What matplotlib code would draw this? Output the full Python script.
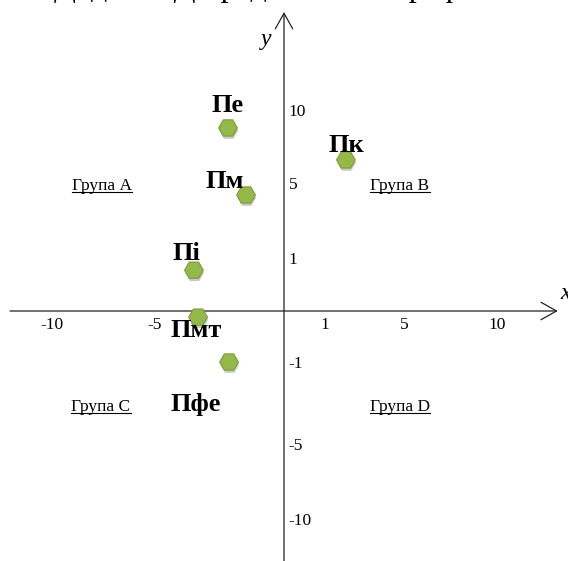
import matplotlib
matplotlib.use("Agg")
import matplotlib.pyplot as plt
import matplotlib.patheffects as pe
from matplotlib.lines import Line2D
import numpy as np

# points of the chart
names = ["Пе", "Пк", "Пм", "Пі", "Пмт", "Пфе"]
x_vals = [-2.17, 2.06, -1.47, -3.49, -3.33, -2.13]
y_vals = [8.77, 6.58, 4.36, 0.77, -0.12, -1.0]

x_ticks = [-10, -5, 1, 5, 10]
y_ticks = [-10, -5, -1, 1, 5, 10]
groups = ["Група А", "Група В", "Група С", "Група D"]

# the axes of the original are not linear, so map values to pixels piecewise
x_knots = [-12.5, -10, -5, 0, 1, 5, 10, 13.8]
x_pix = [0, 52, 155, 284, 325, 404, 497, 568]
y_knots = [-12.8, -10, -5, -1, 0, 1, 5, 10, 17.5]
y_pix = [0, 42, 117, 199, 250, 303, 378, 451, 561]


def piecewise(knots, pix):
    knots = np.asarray(knots, float)
    pix = np.asarray(pix, float)

    def fwd(v):
        return np.interp(v, knots, pix)

    def inv(p):
        return np.interp(p, pix, knots)

    return fwd, inv


serif = "Liberation Serif"

fig = plt.figure(figsize=(5.68, 5.61), dpi=100)
ax = fig.add_axes([0, 0, 1, 1])
ax.set_xscale("function", functions=piecewise(x_knots, x_pix))
ax.set_yscale("function", functions=piecewise(y_knots, y_pix))
ax.set_xlim(x_knots[0], x_knots[-1])
ax.set_ylim(y_knots[0], y_knots[-1])

for s in ax.spines.values():
    s.set_visible(False)
ax.spines["bottom"].set_position(("data", 0))
ax.spines["right"].set_position(("data", 0))
ax.yaxis.tick_right()

ax.set_xticks(x_ticks)
ax.set_xticklabels([str(t) for t in x_ticks], family=serif, fontsize=12.5)
ax.set_yticks(y_ticks)
ax.set_yticklabels([str(t) for t in y_ticks], family=serif, fontsize=12.5)
ax.tick_params(axis="x", length=0, pad=4.5)
ax.tick_params(axis="y", length=0, pad=3.5)
ax.xaxis.set_minor_locator(matplotlib.ticker.NullLocator())
ax.yaxis.set_minor_locator(matplotlib.ticker.NullLocator())

# axis lines with open arrow heads
arrow = dict(arrowstyle="->,head_length=0.8,head_width=0.45", color="#222222",
             lw=0.9, shrinkA=0, shrinkB=0, mutation_scale=14)
ax.annotate("", xy=(0.982, 0), xytext=(0.0176, 0),
            xycoords=("axes fraction", "data"), textcoords=("axes fraction", "data"),
            arrowprops=arrow)
ax.annotate("", xy=(0, 0.9786), xytext=(0, 0),
            xycoords=("data", "axes fraction"), textcoords=("data", "axes fraction"),
            arrowprops=arrow)
ax.text(266 / 568, 1 - 40 / 561, "y", transform=ax.transAxes, family=serif,
        style="italic", fontsize=17, ha="center", va="center")
ax.text(566 / 568, 1 - 293 / 561, "x", transform=ax.transAxes, family=serif,
        style="italic", fontsize=17, ha="center", va="center")

# points
ax.plot(x_vals, y_vals, linestyle="none", marker="H", markersize=13.5,
        markerfacecolor="#94b948", markeredgecolor="#7c9c3c", markeredgewidth=0.8,
        path_effects=[pe.SimplePatchShadow(offset=(0.5, -2), alpha=0.25), pe.Normal()],
        zorder=3)

# label offsets in pixels from each point
offsets = [(0, 22), (0, 14), (-21, 14), (-8, 17), (-2, -13), (-33, -42)]
for name, xv, yv, off in zip(names, x_vals, y_vals, offsets):
    ax.annotate(name, (xv, yv), xytext=off, textcoords="offset pixels",
                ha="center", va="center", family=serif, fontweight="bold",
                fontsize=19, color="black", zorder=4)

# quadrant captions, underlined
group_pos = [(102, 186), (400, 186), (101, 407), (400, 407)]
group_texts = []
for g, (px, py) in zip(groups, group_pos):
    t = ax.text(px / 568, 1 - py / 561, g, transform=ax.transAxes, family=serif,
                fontsize=12.5, ha="center", va="center")
    group_texts.append(t)

# cut-off heading at the top of the page: only the descenders show
fig.text(54 / 568, 1 + 4 / 561, "Додаток Д представлено графічно",
         family=serif, fontsize=23, ha="left", va="baseline")

fig.canvas.draw()
r = fig.canvas.get_renderer()
for t in group_texts:
    bb = t.get_window_extent(r)
    yl = bb.y0 + 2
    fig.add_artist(Line2D([bb.x0 / 568, bb.x1 / 568], [yl / 561, yl / 561],
                          transform=fig.transFigure, color="black", lw=0.8))

fig.savefig("out.png", dpi=100)
